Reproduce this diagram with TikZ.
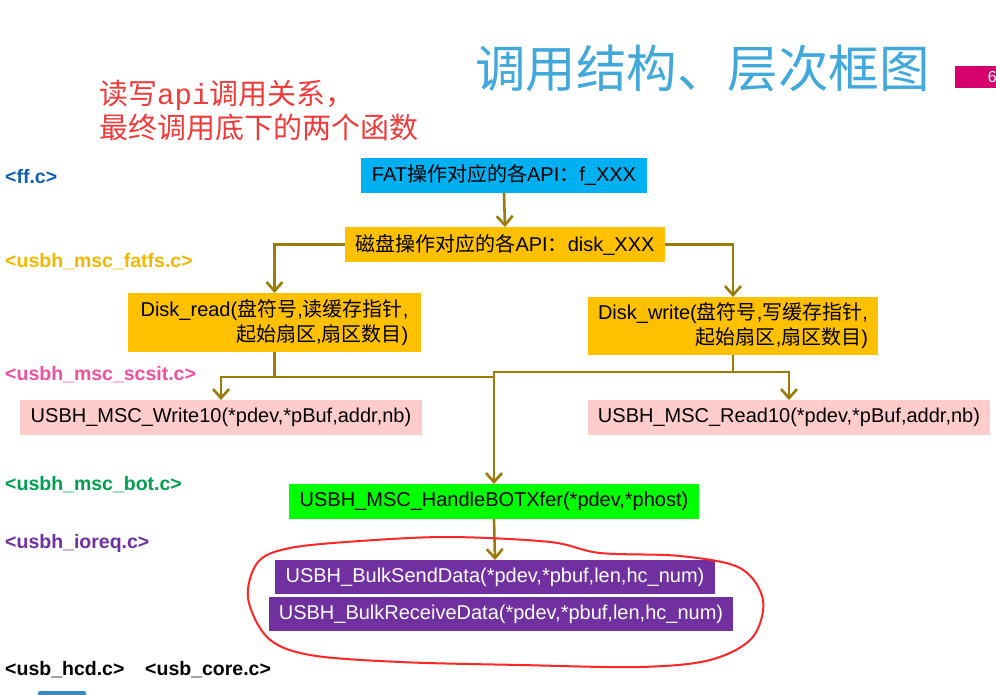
\documentclass[tikz,border=0pt]{standalone}
\usepackage{fontspec}
\setmainfont{Liberation Sans}
\newfontfamily\cjk{Noto Sans CJK SC}
\newfontfamily\monofont{Liberation Mono}
\usetikzlibrary{arrows.meta}
\newcommand\zh[1]{{\cjk #1}}
\definecolor{connc}{RGB}{156,124,8}
\definecolor{fatblue}{RGB}{0,176,240}
\definecolor{goldbox}{RGB}{255,192,0}
\definecolor{pinkbox}{RGB}{255,204,204}
\definecolor{greenbox}{RGB}{0,255,0}
\definecolor{purplebox}{RGB}{112,48,160}
\definecolor{titleblue}{RGB}{65,168,220}
\definecolor{redtext}{RGB}{238,59,59}
\definecolor{pagemark}{RGB}{214,0,111}
\definecolor{lblblue}{RGB}{16,96,176}
\definecolor{lblgold}{RGB}{240,184,0}
\definecolor{lblpink}{RGB}{240,80,160}
\definecolor{lblgreen}{RGB}{0,160,80}
\definecolor{lblpurple}{RGB}{112,48,160}
\definecolor{logoblue}{RGB}{58,138,192}
\begin{document}
\begin{tikzpicture}[x=1pt,y=-1pt,
  box/.style={anchor=north west, inner sep=0pt, outer sep=0pt, font=\fontsize{20}{25}\selectfont},
  conn/.style={draw=connc, line width=2.6pt},
  arr/.style={conn, -{Straight Barb[length=9pt,width=16pt]}},
  lbl/.style={anchor=west, inner sep=0pt, font=\bfseries\fontsize{19.5}{22}\selectfont}
]
\useasboundingbox (0,0) rectangle (996,695);
\fill[white] (0,0) rectangle (996,695);

% title and page mark
\node[anchor=west, inner sep=0pt, text=titleblue, font=\cjk\fontsize{50.5}{56}\selectfont] (title) at (475,68) {调用结构、层次框图};
\node[anchor=north west, inner sep=0pt, fill=pagemark, minimum width=45, minimum height=22, text=white, font=\fontsize{16}{18}\selectfont, text width=38, align=right] (pg) at (955,66) {6};

% red note
\node[anchor=north west, inner sep=0pt, text=redtext, align=left, font=\cjk\fontsize{29}{34}\selectfont] (note) at (99,80) {读写{\monofont api}调用关系，\\最终调用底下的两个函数};

% left labels
\node[lbl, text=lblblue] (lff) at (5,177) {<ff.c>};
\node[lbl, text=lblgold] (lfatfs) at (5,262) {<usbh\_msc\_fatfs.c>};
\node[lbl, text=lblpink] (lscsi) at (5,375) {<usbh\_msc\_scsit.c>};
\node[lbl, text=lblgreen] (lbot) at (5,485) {<usbh\_msc\_bot.c>};
\node[lbl, text=lblpurple] (lioreq) at (5,543) {<usbh\_ioreq.c>};
\node[lbl, text=black] (lhcd) at (5,670) {<usb\_hcd.c>};
\node[lbl, text=black] (lcore) at (145,670) {<usb\_core.c>};

% boxes
\node[box, fill=fatblue, minimum width=286, minimum height=35] (fat) at (361,158)
  {FAT\zh{操作对应的各}API\zh{：}f\_XXX};
\node[box, fill=goldbox, minimum width=320, minimum height=35] (disk) at (345,227)
  {\zh{磁盘操作对应的各}API\zh{：}disk\_XXX};
\node[box, fill=goldbox, minimum width=293, minimum height=59, align=right] (dread) at (128,293)
  {Disk\_read(\zh{盘符号},\zh{读缓存指针},\\\zh{起始扇区},\zh{扇区数目})};
\node[box, fill=goldbox, minimum width=290, minimum height=58, align=right] (dwrite) at (588,297)
  {Disk\_write(\zh{盘符号},\zh{写缓存指针},\\\zh{起始扇区},\zh{扇区数目})};
\node[box, fill=pinkbox, minimum width=402, minimum height=35] (w10) at (20,400)
  {USBH\_MSC\_Write10(*pdev,*pBuf,addr,nb)};
\node[box, fill=pinkbox, minimum width=402, minimum height=35] (r10) at (588,400)
  {USBH\_MSC\_Read10(*pdev,*pBuf,addr,nb)};
\node[box, fill=greenbox, minimum width=410, minimum height=35] (bot) at (289,484)
  {USBH\_MSC\_HandleBOTXfer(*pdev,*phost)};
\node[box, fill=purplebox, text=white, minimum width=440, minimum height=34] (bsend) at (275,560)
  {USBH\_BulkSendData(*pdev,*pbuf,len,hc\_num)};
\node[box, fill=purplebox, text=white, minimum width=464, minimum height=34] (brecv) at (269,597)
  {USBH\_BulkReceiveData(*pdev,*pbuf,len,hc\_num)};

% connectors
\draw[arr] (fat.south) -- (disk.north);
\draw[arr] (disk.west) -| (dread.north);
\draw[arr] (disk.east) -| (dwrite.north);
\path (dread.south) ++(0,25) coordinate (jl);
\path (dwrite.south) ++(0,17) coordinate (jr);
\coordinate (jc) at (bot.north |- jl);
\draw[arr] (dread.south) -- (jl) -| (w10.north);
\draw[conn] (jl) -- (jc);
\draw[arr] (dwrite.south) -- (jr) -| (r10.north);
\draw[arr] (jr) -| (bot.north);
\draw[arr] (bot.south) -- (bsend.north);

% freehand red outline
\draw[draw=red!85!white, line width=2pt] plot[smooth cycle, tension=0.55] coordinates {
  (248,598) (258,562) (290,548) (360,541) (450,537) (550,542) (600,553)
  (680,556) (740,568) (763,600) (752,638) (710,660) (640,667) (520,665)
  (400,662) (310,655) (268,638)};

% logo fragment at the bottom edge
\fill[logoblue, rounded corners=2pt] (38,691) rectangle (86,700);
\end{tikzpicture}
\end{document}
